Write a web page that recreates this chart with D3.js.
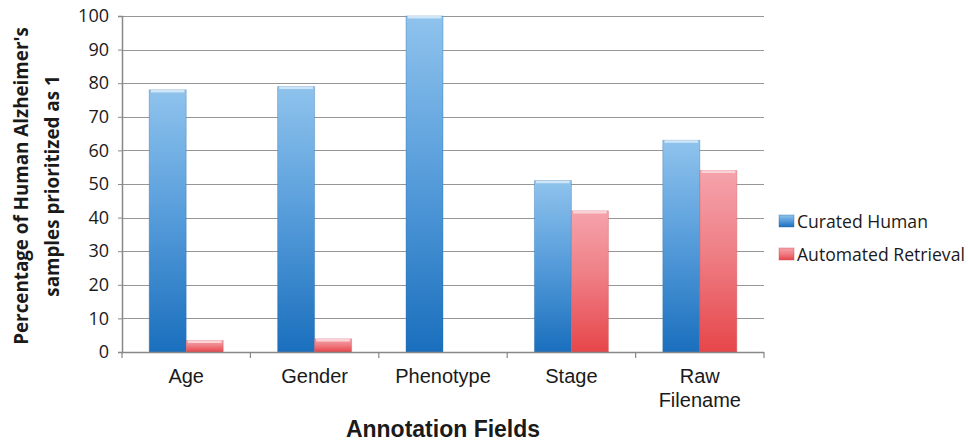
<!DOCTYPE html>
<html>
  <head>
    <script src="https://cdn.jsdelivr.net/npm/d3@7"></script>
    <style>
      body { margin: 0; background: #fff; }
    </style>
  </head>
  <body>
    <script type="text/javascript">

    // Categories along the x axis
    var categories = ["Age", "Gender", "Phenotype", "Stage", "Raw Filename"];
    // Series names (legend order)
    var seriesNames = ["Curated Human", "Automated Retrieval"];
    // Values, one per category
    var curatedHuman = [78, 79, 100, 51, 63];
    var automatedRetrieval = [3.4, 3.9, 0, 42, 54];
    var yTicks = [0, 10, 20, 30, 40, 50, 60, 70, 80, 90, 100];

    var width = 968, height = 442;
    var margin = {left: 122, right: 204, top: 16, bottom: 90};

    var svg = d3.select("body").append("svg")
        .attr("width", width)
        .attr("height", height);

    var defs = svg.append("defs");

    // vertical gradients, light on top, dark at the bottom
    function addGradient(id, top, mid, bottom) {
        var g = defs.append("linearGradient")
            .attr("id", id)
            .attr("x1", 0).attr("y1", 0).attr("x2", 0).attr("y2", 1);
        g.append("stop").attr("offset", "0%").attr("stop-color", top);
        g.append("stop").attr("offset", "45%").attr("stop-color", mid);
        g.append("stop").attr("offset", "100%").attr("stop-color", bottom);
    }
    addGradient("grad0", "#8fc3ed", "#5a9fdc", "#1a6fbd");
    addGradient("grad1", "#f5a3ab", "#ef7f86", "#e6464a");

    var edgeColors = ["#2a6aa8", "#c9494f"];
    var capColors = ["#cfe6f8", "#fbd3d6"];

    var x0 = d3.scaleBand()
        .domain(categories)
        .range([margin.left, width - margin.right])
        .padding(0);

    var x1 = d3.scaleBand()
        .domain(seriesNames)
        .range([0, x0.bandwidth()])
        .paddingInner(0)
        .paddingOuter(0.735);

    var y = d3.scaleLinear()
        .domain([0, 100])
        .range([height - margin.bottom, margin.top]);

    // gridlines
    svg.append("g")
        .selectAll("line")
        .data(yTicks.filter(function (d) { return d > 0; }))
        .enter()
        .append("line")
          .attr("x1", margin.left)
          .attr("x2", width - margin.right)
          .attr("y1", function (d) { return Math.round(y(d)) + 0.5; })
          .attr("y2", function (d) { return Math.round(y(d)) + 0.5; })
          .attr("stroke", "#969696")
          .attr("stroke-width", 1.2);

    // y axis
    var yAxis = d3.axisLeft(y)
        .tickValues(yTicks)
        .tickSize(4)
        .tickPadding(9);
    var yg = svg.append("g")
        .attr("transform", "translate(" + margin.left + ",0)")
        .call(yAxis);
    yg.select(".domain").attr("stroke", "#888").attr("stroke-width", 1.5);
    yg.selectAll(".tick line").attr("stroke", "#888");
    yg.selectAll(".tick text")
        .style("font-family", "'Open Sans', sans-serif")
        .style("font-size", "18px")
        .attr("fill", "#1a1a1a");

    // bars
    var rows = categories.map(function (c, i) {
        return {cat: c, values: [curatedHuman[i], automatedRetrieval[i]]};
    });

    var groups = svg.append("g")
        .selectAll("g")
        .data(rows)
        .enter()
        .append("g")
          .attr("transform", function (d) { return "translate(" + x0(d.cat) + ",0)"; });

    var bars = groups.selectAll("g")
        .data(function (d) {
            return d.values.map(function (v, j) { return {s: j, v: v}; });
        })
        .enter()
        .append("g");

    bars.append("rect")
        .attr("x", function (d) { return x1(seriesNames[d.s]); })
        .attr("y", function (d) { return y(d.v); })
        .attr("width", x1.bandwidth())
        .attr("height", function (d) { return y(0) - y(d.v); })
        .attr("fill", function (d) { return "url(#grad" + d.s + ")"; })
        .attr("stroke", function (d) { return edgeColors[d.s]; })
        .attr("stroke-opacity", 0.35)
        .attr("stroke-width", 1);

    // light rim on the top of each bar
    bars.filter(function (d) { return d.v > 0; })
        .append("rect")
        .attr("x", function (d) { return x1(seriesNames[d.s]) + 1.5; })
        .attr("y", function (d) { return y(d.v); })
        .attr("width", x1.bandwidth() - 3)
        .attr("height", 2.5)
        .attr("rx", 1)
        .attr("fill", function (d) { return capColors[d.s]; });

    // x axis
    var xBase = y(0);
    svg.append("line")
        .attr("x1", margin.left)
        .attr("x2", width - margin.right)
        .attr("y1", xBase + 0.5)
        .attr("y2", xBase + 0.5)
        .attr("stroke", "#888")
        .attr("stroke-width", 1.5);

    var boundaries = categories.map(function (c) { return x0(c); })
        .concat([width - margin.right]);
    svg.append("g")
        .selectAll("line")
        .data(boundaries)
        .enter()
        .append("line")
          .attr("x1", function (d) { return d; })
          .attr("x2", function (d) { return d; })
          .attr("y1", xBase)
          .attr("y2", xBase + 6)
          .attr("stroke", "#888")
          .attr("stroke-width", 1.2);

    // category labels, split on space for the two-word one
    var labels = svg.append("g")
        .selectAll("text")
        .data(categories)
        .enter()
        .append("text")
          .attr("x", function (d) { return x0(d) + x0.bandwidth() / 2; })
          .attr("y", 383)
          .attr("text-anchor", "middle")
          .style("font-family", "'Liberation Sans', Arial, sans-serif")
          .style("font-size", "20px")
          .attr("fill", "#1a1a1a");
    labels.each(function (d) {
        var words = d === "Raw Filename" ? ["Raw", "Filename"] : [d];
        var t = d3.select(this);
        words.forEach(function (w, i) {
            t.append("tspan")
              .attr("x", x0(d) + x0.bandwidth() / 2)
              .attr("dy", i === 0 ? 0 : 24)
              .text(w);
        });
    });

    // axis titles
    svg.append("text")
        .attr("x", (margin.left + width - margin.right) / 2)
        .attr("y", 437)
        .attr("text-anchor", "middle")
        .style("font-family", "'Liberation Sans', Arial, sans-serif")
        .style("font-size", "23px")
        .style("font-weight", "bold")
        .attr("fill", "#1a1a1a")
        .text("Annotation Fields");

    svg.selectAll("y_title")
        .data(["Percentage of Human Alzheimer's", "samples prioritized as 1"])
        .enter()
        .append("text")
          .attr("transform", function (d, i) {
              return "translate(" + (28 + i * 31) + ",186) rotate(-90)";
          })
          .attr("text-anchor", "middle")
          .style("font-family", "'Open Sans', sans-serif")
          .style("font-size", "18.8px")
          .style("font-weight", "bold")
          .attr("fill", "#1a1a1a")
          .text(function (d) { return d; });

    // legend
    var legend = svg.append("g")
        .selectAll("g")
        .data(seriesNames)
        .enter()
        .append("g")
          .attr("transform", function (d, i) { return "translate(779," + (215 + i * 33) + ")"; });
    legend.append("rect")
        .attr("width", 15)
        .attr("height", 12)
        .attr("fill", function (d, i) { return "url(#grad" + i + ")"; })
        .attr("stroke", function (d, i) { return edgeColors[i]; })
        .attr("stroke-opacity", 0.4);
    legend.append("text")
        .attr("x", 18)
        .attr("y", 12.5)
        .style("font-family", "'Open Sans', sans-serif")
        .style("font-size", "17.6px")
        .attr("fill", "#1a1a1a")
        .text(function (d) { return d; });

    </script>
  </body>
</html>
